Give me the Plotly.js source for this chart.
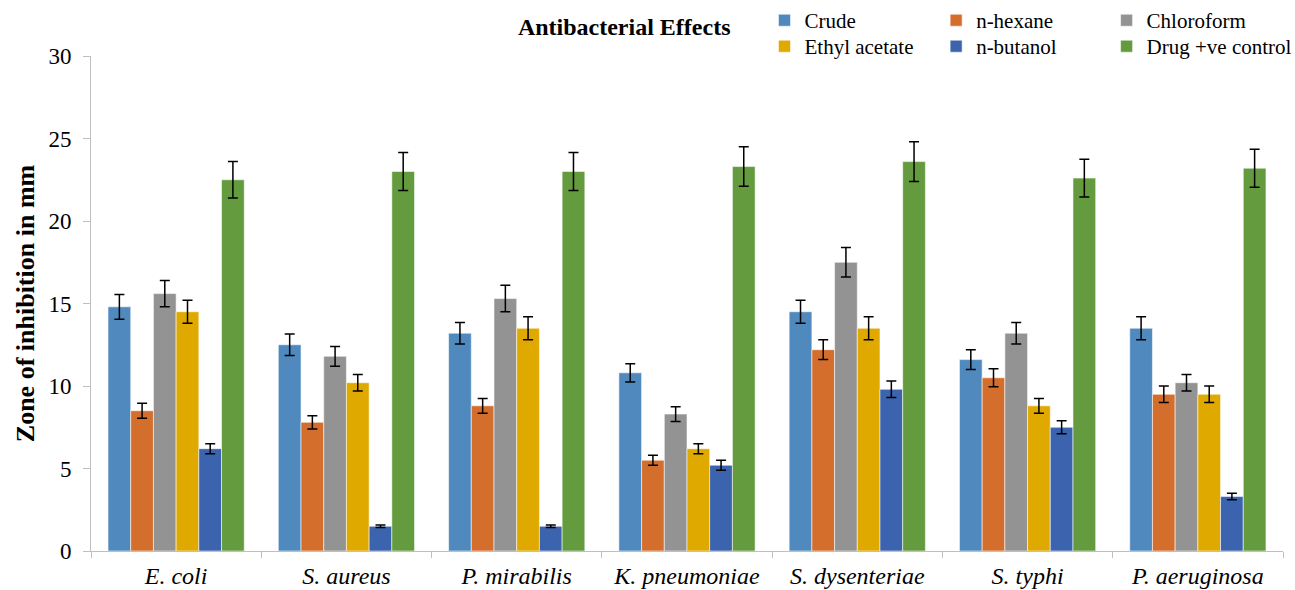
<!DOCTYPE html>
<html>
<head>
<meta charset="utf-8">
<script src="https://cdn.plot.ly/plotly-3.0.1.min.js"></script>
<style>html,body{margin:0;padding:0;background:#fff;}#chart{width:1295px;height:590px;}</style>
</head>
<body>
<div id="chart"></div>
<script>
const categories = ["E. coli", "S. aureus", "P. mirabilis", "K. pneumoniae", "S. dysenteriae", "S. typhi", "P. aeruginosa"];

const crude        = [14.8, 12.5, 13.2, 10.8, 14.5, 11.6, 13.5];
const crudeErr     = [0.75, 0.65, 0.65, 0.55, 0.7, 0.6, 0.7];
const nHexane      = [8.5, 7.8, 8.8, 5.5, 12.2, 10.5, 9.5];
const nHexaneErr   = [0.45, 0.4, 0.45, 0.3, 0.6, 0.55, 0.5];
const chloroform   = [15.6, 11.8, 15.3, 8.3, 17.5, 13.2, 10.2];
const chloroformErr= [0.8, 0.6, 0.8, 0.45, 0.9, 0.65, 0.5];
const ethylAcetate = [14.5, 10.2, 13.5, 6.2, 13.5, 8.8, 9.5];
const ethylAcetateErr = [0.7, 0.5, 0.7, 0.3, 0.7, 0.45, 0.5];
const nButanol     = [6.2, 1.5, 1.5, 5.2, 9.8, 7.5, 3.3];
const nButanolErr  = [0.3, 0.08, 0.08, 0.3, 0.5, 0.4, 0.2];
const drugControl  = [22.5, 23.0, 23.0, 23.3, 23.6, 22.6, 23.2];
const drugControlErr = [1.1, 1.15, 1.15, 1.2, 1.2, 1.15, 1.15];

const seriesNames = ["Crude", "n-hexane", "Chloroform", "Ethyl acetate", "n-butanol", "Drug +ve control"];
const seriesValues = [crude, nHexane, chloroform, ethylAcetate, nButanol, drugControl];
const seriesErrors = [crudeErr, nHexaneErr, chloroformErr, ethylAcetateErr, nButanolErr, drugControlErr];
const seriesColors = ["#4f89bd", "#d36e2d", "#939393", "#e0a900", "#3c63ad", "#639b3e"];
const legendIds = ["legend", "legend2", "legend3", "legend4", "legend5", "legend6"];

const traces = seriesNames.map((name, i) => ({
  type: "bar",
  name: name,
  x: categories,
  y: seriesValues[i],
  legend: legendIds[i],
  marker: { color: seriesColors[i], line: { color: "rgba(255,255,255,0.55)", width: 1 } },
  error_y: { type: "data", array: seriesErrors[i], visible: true, color: "#000", thickness: 1.5, width: 5 }
}));

const serif = "Liberation Serif, Times New Roman, serif";

function legendAt(x, y) {
  return {
    orientation: "v", x: x, xanchor: "left", y: y, yanchor: "top",
    font: { family: serif, size: 21, color: "#000" },
    itemwidth: 30, tracegroupgap: 0, traceorder: "normal", bgcolor: "rgba(0,0,0,0)"
  };
}
const legendCols = [0.565, 0.709, 0.852];
const legendRows = [1.113, 1.0605];

const layout = {
  width: 1295, height: 590,
  margin: { l: 91, r: 12, t: 56, b: 39, autoexpand: false },
  paper_bgcolor: "#fff", plot_bgcolor: "#fff",
  barmode: "group", bargap: 0.2, bargroupgap: 0,
  font: { family: serif, color: "#000" },
  title: { text: "<b>Antibacterial Effects</b>", font: { family: serif, size: 24, color: "#000" },
           x: 0.482, xanchor: "center", y: 0.955, yanchor: "middle" },
  xaxis: {
    type: "category", showline: true, linecolor: "#bfbfbf", linewidth: 1,
    ticks: "outside", tickson: "boundaries", ticklen: 6, tickcolor: "#bfbfbf",
    tickfont: { family: serif, size: 24, color: "#000", style: "italic" },
    ticklabelstandoff: 3, showgrid: false, zeroline: false
  },
  yaxis: {
    range: [0, 30], dtick: 5, showline: true, linecolor: "#bfbfbf", linewidth: 1,
    ticks: "outside", ticklen: 7, tickcolor: "#bfbfbf", showgrid: false, zeroline: false,
    tickfont: { family: serif, size: 23, color: "#000" }, ticklabelstandoff: 7,
    title: { text: "<b>Zone of inhibition in mm</b>", font: { family: serif, size: 26, color: "#000" }, standoff: 6 }
  },
  showlegend: true
};
legendIds.forEach((id, i) => {
  layout[id] = legendAt(legendCols[i % 3], legendRows[Math.floor(i / 3)]);
});

Plotly.newPlot("chart", traces, layout, { displayModeBar: false, staticPlot: true });
</script>
</body>
</html>
